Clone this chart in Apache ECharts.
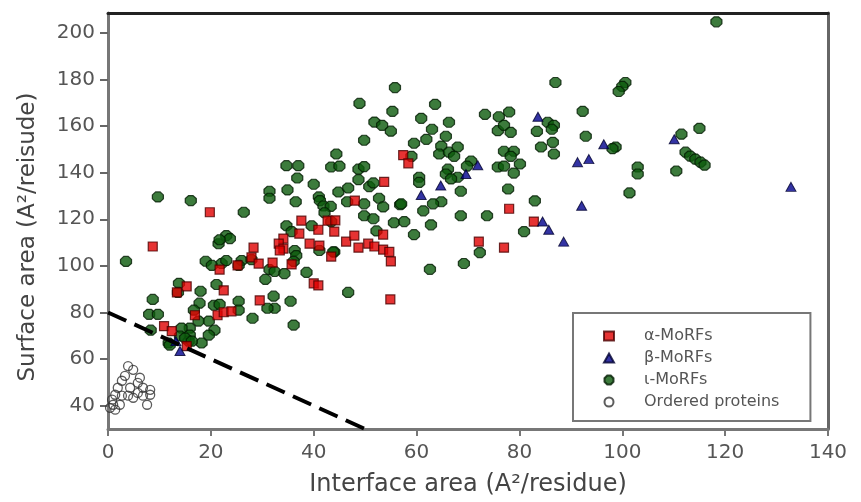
<!DOCTYPE html>
<html>
<head>
<meta charset="utf-8">
<script src="https://cdn.jsdelivr.net/npm/echarts@6/dist/echarts.min.js"></script>
<style>
html,body{margin:0;padding:0;background:#fff;}
#chart{width:861px;height:502px;}
</style>
</head>
<body>
<div id="chart"></div>
<script>
// ---- data (Interface area, Surface area) ----
const alphaMoRFs = [[19.8,123],[48,128],[53.7,136],[57.4,147.5],[58.4,144],[78,124.5],[82.8,119],[72.1,110.4],[77,107.8],[53.5,113.4],[44,114.7],[46.3,110.4],[47.9,113],[48.7,107.8],[50.6,109.5],[51.8,108.3],[53.5,107],[54.7,106],[37.6,119.4],[40.9,115.5],[42.7,119.4],[44.2,119.5],[37.2,113.8],[34.1,111.7],[33.2,109.5],[34.1,107.4],[33.4,106.6],[39.2,109.5],[41.1,108.7],[43.4,104],[28.3,107.8],[27.9,103.6],[29.3,101],[32,101.4],[35.7,100.6],[40,92.5],[40.9,91.6],[8.7,108.3],[21.7,98.4],[25.2,100.2],[15.3,91.2],[13.4,88.6],[22.5,89.5],[21.3,78.8],[22.5,80.1],[24,80.5],[29.5,85.2],[10.9,74.1],[12.4,72],[16.9,78.8],[15.3,65.6],[54.9,85.6],[55,101.9]];

const betaMoRFs = [[60.9,130.4],[64.7,134.5],[83.6,164],[91.3,144.5],[71.9,143.2],[69.6,139.4],[84.5,119],[85.7,115.5],[88.6,110.4],[96.4,152.2],[93.5,145.8],[92.1,125.8],[110.1,154.3],[132.8,133.9],[13.2,67.7],[14,63.5]];

const iotaMoRFs = [[118.3,204.7],[9.7,129.6],[16.1,128],[26.4,123],[34.7,143],[37,143],[36.8,137.7],[40,135],[44.4,148],[43.4,142.4],[45,142.8],[48.7,141.5],[49.8,142.6],[48.7,137],[31.4,132],[31.4,129],[34.9,132.6],[36.5,127.5],[41,129.6],[41.2,128],[44.8,131.7],[46.7,133.4],[46.5,127.5],[49.8,126.6],[41.9,125.7],[50.8,134],[51.6,135.6],[52.7,129],[53.5,125.3],[56.8,126.2],[61.3,123.6],[64.8,127.5],[63.2,126.6],[48.9,169.7],[55.8,176.5],[55.3,166.3],[51.8,161.7],[53.3,160.3],[55,157.8],[49.8,153.9],[63.6,169.3],[60.9,163.3],[63,158.6],[61.9,154.3],[59.5,152.6],[59,147],[65.7,155.6],[64.8,151.4],[64.4,148],[66.3,161.6],[66.1,141.5],[87,178.7],[73.3,165],[76,164],[78,166],[75.8,158],[77,160.3],[78.3,157.3],[85.5,161.6],[86.7,160.3],[86.3,158.6],[83.4,157.7],[84.2,151],[86.5,153],[86.7,148],[66.3,148.8],[68,151],[67.3,147],[77,149.2],[78.9,149.2],[78.3,147],[75.8,142.4],[77,142.8],[80.1,143.7],[78.9,139.8],[70.6,145],[69.8,142.8],[65.7,139.4],[68,138],[66.7,137.3],[60.5,138],[60.5,135.8],[68.6,132],[77.8,133],[83,127.9],[68.6,121.5],[73.7,121.5],[80.9,114.7],[72.3,105.7],[62.8,117.6],[59.5,113.4],[57,126.6],[55.6,118.5],[57.6,119],[43.3,125.5],[42.1,122.8],[49.8,121.5],[51.6,120.2],[52.2,115],[43.4,119],[44,106],[69.2,101],[46.7,88.6],[62.6,98.5],[39.6,117.2],[34.7,117.2],[35.7,114.7],[36.3,106.6],[36.6,104.4],[36.1,101.9],[41.1,106.6],[43.8,106],[31.4,98.4],[32.4,97.6],[34.3,96.7],[30.6,94.2],[38.6,97.2],[23,113],[23.7,111.7],[21.5,109.5],[21.7,111.2],[3.5,101.9],[19,102],[20.2,100.2],[22.1,101],[23,102.3],[26,102.3],[25.4,100.2],[27.9,102.7],[13.8,92.5],[13.6,88.6],[8.7,85.6],[18,89.1],[21.1,92],[17.8,84],[16.7,81],[8,79.2],[9.7,79.2],[20.6,83.1],[21.7,83.5],[25.4,84.8],[25.4,81],[19.6,76.3],[20.7,72.4],[19.6,70.3],[32.2,87],[32.4,81.8],[31,81.8],[35.5,84.8],[28.1,77.5],[36.1,74.6],[8.3,72.4],[17.6,76.3],[15.9,73.3],[15.9,70.3],[14.3,73.3],[14,69.9],[18.2,66.9],[11.8,66.9],[15.7,67.7],[15,69],[12,66],[16.3,67.7],[100.6,178.7],[100,177],[99.3,174.8],[92.3,166.3],[92.9,155.6],[98.7,151],[98.1,150.3],[103,142.4],[103,139.4],[101.4,131.3],[111.5,156.5],[115,159],[112.3,148.8],[113.2,147.1],[114.2,145.8],[115.2,144.5],[116,143.2],[110.5,140.7]];

const orderedProteins = [[3.9,57],[4.9,55.4],[3.3,52.8],[2.7,50.7],[5.8,49.8],[4.3,47.7],[6.8,47.7],[8.2,46.8],[1.4,44.7],[2.7,44.3],[0.8,42.6],[4.9,43.4],[6.8,44.3],[8.2,44.7],[1,40.4],[2.3,40.4],[1.4,38.3],[0.4,39.1],[5.8,45.5],[3.9,44.3],[7.6,40.4],[1.9,47.7],[6.2,52]];

const cutoffLine = [[0,80],[50,30]];

const xTicks = [0,20,40,60,80,100,120,140];
const yTicks = [40,60,80,100,120,140,160,180,200];

const seriesNames = ['α-MoRFs','β-MoRFs','ι-MoRFs','Ordered proteins'];
const xTitle = 'Interface area (A²/residue)';
const yTitle = 'Surface area (A²/reisude)';

// ---- chart ----
const FONT = 'DejaVu Sans';
const chart = echarts.init(document.getElementById('chart'), null, {renderer:'canvas'});
const octagon = 'path://M3,0 L7,0 L10,3 L10,7 L7,10 L3,10 L0,7 L0,3 Z';

chart.setOption({
  animation: false,
  backgroundColor: '#fff',
  grid: {left:108, right:33, top:13, bottom:70, containLabel:false},
  legend: {
    data: seriesNames,
    orient: 'vertical',
    left: 573, top: 313,
    padding: [15, 31, 11, 30],
    itemGap: 6,
    itemWidth: 10, itemHeight: 9,
    backgroundColor: '#fff',
    borderColor: '#777', borderWidth: 2, borderRadius: 0,
    textStyle: {fontFamily: FONT, fontSize: 16, color: '#555', padding: [0, 0, 0, 25]}
  },
  xAxis: [{
    type: 'value', min: xTicks[0], max: xTicks[xTicks.length-1], interval: 20,
    position: 'bottom',
    name: xTitle, nameLocation: 'middle', nameGap: 44,
    nameTextStyle: {fontFamily: FONT, fontSize: 24, color: '#444'},
    axisLine: {show:true, onZero:false, lineStyle:{color:'#777', width:3}},
    axisTick: {show:true, inside:false, length:7, lineStyle:{color:'#777', width:2}},
    axisLabel: {fontFamily: FONT, fontSize: 20, color: '#555', margin: 14},
    splitLine: {show:false}
  },{
    type: 'value', min: xTicks[0], max: xTicks[xTicks.length-1],
    position: 'top',
    axisLine: {show:true, onZero:false, lineStyle:{color:'#222', width:3}},
    axisTick: {show:false}, axisLabel: {show:false}, splitLine: {show:false}
  }],
  yAxis: [{
    type: 'value', min: 30, max: 208.5,
    position: 'left',
    name: yTitle, nameLocation: 'middle', nameGap: 68,
    nameTextStyle: {fontFamily: FONT, fontSize: 23, color: '#444', padding:[0,32,0,0]},
    axisLine: {show:true, onZero:false, lineStyle:{color:'#777', width:3}},
    axisTick: {show:true, inside:false, length:8, customValues: yTicks, lineStyle:{color:'#666', width:2}},
    axisLabel: {fontFamily: FONT, fontSize: 20, color: '#555', margin: 13, customValues: yTicks},
    splitLine: {show:false}
  },{
    type: 'value', min: 30, max: 208.5,
    position: 'right',
    axisLine: {show:true, onZero:false, lineStyle:{color:'#666', width:3}},
    axisTick: {show:false}, axisLabel: {show:false}, splitLine: {show:false}
  }],
  series: [
    {
      name: 'cutoff', type: 'line', data: cutoffLine, xAxisIndex:0, yAxisIndex:0,
      symbol: 'none', silent: true,
      lineStyle: {color:'#000', width:4, type:[20,9]}
    },
    {
      name: seriesNames[3], type: 'scatter', data: orderedProteins,
      symbol: 'circle', symbolSize: 9,
      itemStyle: {color:'rgba(255,255,255,0)', borderColor:'#333', borderWidth:1.3}
    },
    {
      name: seriesNames[2], type: 'scatter', data: iotaMoRFs,
      symbol: octagon, symbolSize: [11,10],
      itemStyle: {color:'#0b5a0b', borderColor:'#021c02', borderWidth:1.2}
    },
    {
      name: seriesNames[0], type: 'scatter', data: alphaMoRFs,
      symbol: 'rect', symbolSize: 9,
      itemStyle: {color:'#e00000', borderColor:'#4a0000', borderWidth:1.2}
    },
    {
      name: seriesNames[1], type: 'scatter', data: betaMoRFs,
      symbol: 'triangle', symbolSize: [10,9],
      itemStyle: {color:'#00008c', borderColor:'#000030', borderWidth:1}
    }
  ]
});
</script>
</body>
</html>
